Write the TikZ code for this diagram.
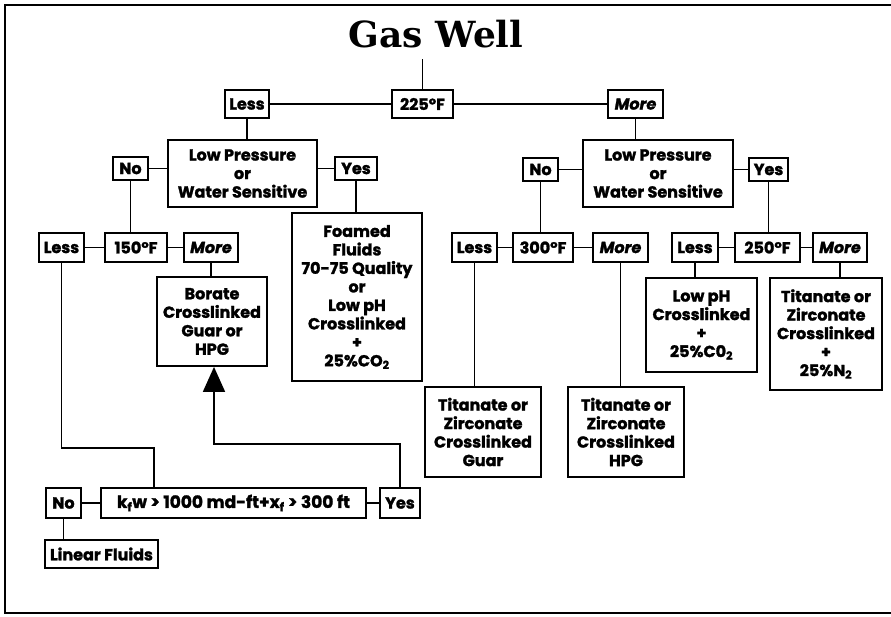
\documentclass[tikz,border=0pt]{standalone}
\usepackage{fontspec}
\newfontfamily\flowfont{Poppins}[BoldFeatures={FakeBold=1.6}, BoldItalicFeatures={FakeBold=1.6}]
\newfontfamily\headfont{DejaVu Serif}
\usetikzlibrary{arrows.meta}

\tikzset{
  lab/.style={draw, line width=1.8pt, inner sep=1pt, align=center,
    font=\flowfont\bfseries\fontsize{16}{18.5}\selectfont},
  conn/.style={line width=1.8pt},
}

\begin{document}
\begin{tikzpicture}[x=1pt, y=-1pt]
  \useasboundingbox (0,0) rectangle (891,616);
  % ==== FRAME ====
  \draw[line width=1.8pt] (891,5) -- (5,5) -- (5,613) -- (891,613);
  % ==== TITLE ====
  \node[font=\headfont\bfseries\fontsize{36}{40}\selectfont] (title) at (436,34) {Gas Well};

  % ==== FIRST SPLIT ====
  \node[lab, minimum width=61pt, minimum height=28pt] (t225) at (422.5,104) {225°F};
  \node[lab, minimum width=44pt, minimum height=28pt] (less1) at (247,104) {Less};
  \node[lab, minimum width=55pt, minimum height=28pt] (more1) at (635.5,104) {\itshape More};
  \draw[conn] (t225.north) -- ++(0,-30);
  \draw[conn] (less1) -- (t225) -- (more1);

  % ==== LOW PRESSURE, LEFT ====
  \node[lab, minimum width=149pt, minimum height=67pt] (lpL) at (242.5,173.5) {Low Pressure\\or\\Water Sensitive};
  \node[lab, minimum width=35pt, minimum height=23pt] (noL) at (130.5,168.5) {No};
  \node[lab, minimum width=42pt, minimum height=23pt] (yesL) at (356,168.5) {Yes};
  \draw[conn] (less1.south) -- (less1.south |- lpL.north);
  \draw[conn] (noL.east) -- (noL.east -| lpL.west);
  \draw[conn] (yesL.west) -- (yesL.west -| lpL.east);

  % ==== 150 F ====
  \node[lab, minimum width=62pt, minimum height=29pt] (t150) at (136,247.5) {150°F};
  \node[lab, minimum width=45pt, minimum height=29pt] (lessA) at (61.5,247.5) {Less};
  \node[lab, minimum width=54pt, minimum height=29pt] (moreA) at (211,247.5) {\itshape More};
  \draw[conn] (noL.south) -- (noL.south |- t150.north);
  \draw[conn] (lessA) -- (t150) -- (moreA);
  \node[lab, minimum width=110pt, minimum height=89pt] (borate) at (212,321.5) {Borate\\Crosslinked\\Guar or\\HPG};
  \draw[conn] (moreA.south) -- (moreA.south |- borate.north);

  % ==== FOAMED ====
  \node[lab, minimum width=130pt, minimum height=168pt] (foamed) at (357,297)
    {Foamed\\Fluids\\70-75 Quality\\or\\Low pH\\Crosslinked\\+\\25\%CO\textsubscript{2}};
  \draw[conn] (yesL.south) -- (yesL.south |- foamed.north);

  % ==== PERMEABILITY CHECK ====
  \node[lab, minimum width=265pt, minimum height=30pt, font=\flowfont\bfseries\fontsize{17}{19}\selectfont] (kfw) at (233.5,503) {k\textsubscript{f}w > 1000 md-ft+x\textsubscript{f} > 300 ft};
  \node[lab, minimum width=35pt, minimum height=30pt] (noB) at (63.5,503) {No};
  \node[lab, minimum width=40pt, minimum height=30pt] (yesB) at (400,503) {Yes};
  \node[lab, minimum width=113pt, minimum height=28pt] (linear) at (101.5,554) {Linear Fluids};
  \draw[conn] (noB) -- (kfw) -- (yesB);
  \draw[conn] (noB.south) -- (noB.south |- linear.north);
  \draw[conn] (lessA.south) -- ++(0,185) -| ([xshift=54pt]kfw.north west);
  \draw[conn, -{Triangle[width=22pt, length=25pt]}] (yesB.north) -- ++(0,-43) -| ([xshift=2pt]borate.south);

  % ==== LOW PRESSURE, RIGHT ====
  \node[lab, minimum width=150pt, minimum height=67pt] (lpR) at (658,173.5) {Low Pressure\\or\\Water Sensitive};
  \node[lab, minimum width=35pt, minimum height=23pt] (noR) at (540.5,169.5) {No};
  \node[lab, minimum width=39pt, minimum height=23pt] (yesR) at (768.5,169.5) {Yes};
  \draw[conn] (more1.south) -- (more1.south |- lpR.north);
  \draw[conn] (noR.east) -- (noR.east -| lpR.west);
  \draw[conn] (yesR.west) -- (yesR.west -| lpR.east);

  % ==== 300 F ====
  \node[lab, minimum width=60pt, minimum height=29pt] (t300) at (543,247.5) {300°F};
  \node[lab, minimum width=45pt, minimum height=29pt] (lessC) at (474.5,247.5) {Less};
  \node[lab, minimum width=55pt, minimum height=29pt] (moreC) at (620.5,247.5) {\itshape More};
  \draw[conn] (noR.south) -- (noR.south |- t300.north);
  \draw[conn] (lessC) -- (t300) -- (moreC);
  \node[lab, minimum width=116pt, minimum height=90pt] (titGuar) at (483,432) {Titanate or\\Zirconate\\Crosslinked\\Guar};
  \node[lab, minimum width=116pt, minimum height=90pt] (titHPG) at (626,432) {Titanate or\\Zirconate\\Crosslinked\\HPG};
  \draw[conn] (lessC.south) -- (lessC.south |- titGuar.north);
  \draw[conn] (moreC.south) -- (moreC.south |- titHPG.north);

  % ==== 250 F ====
  \node[lab, minimum width=65pt, minimum height=29pt] (t250) at (767.5,247.5) {250°F};
  \node[lab, minimum width=46pt, minimum height=29pt] (lessD) at (695,247.5) {Less};
  \node[lab, minimum width=54pt, minimum height=29pt] (moreD) at (840,247.5) {\itshape More};
  \draw[conn] (yesR.south) -- (yesR.south |- t250.north);
  \draw[conn] (lessD) -- (t250) -- (moreD);
  \node[lab, minimum width=111pt, minimum height=94pt] (lowpH) at (701.5,325) {Low pH\\Crosslinked\\+\\25\%C0\textsubscript{2}};
  \node[lab, minimum width=112pt, minimum height=112pt] (titN) at (826,334) {Titanate or\\Zirconate\\Crosslinked\\+\\25\%N\textsubscript{2}};
  \draw[conn] (lessD.south) -- (lessD.south |- lowpH.north);
  \draw[conn] (moreD.south) -- (moreD.south |- titN.north);
\end{tikzpicture}
\end{document}
